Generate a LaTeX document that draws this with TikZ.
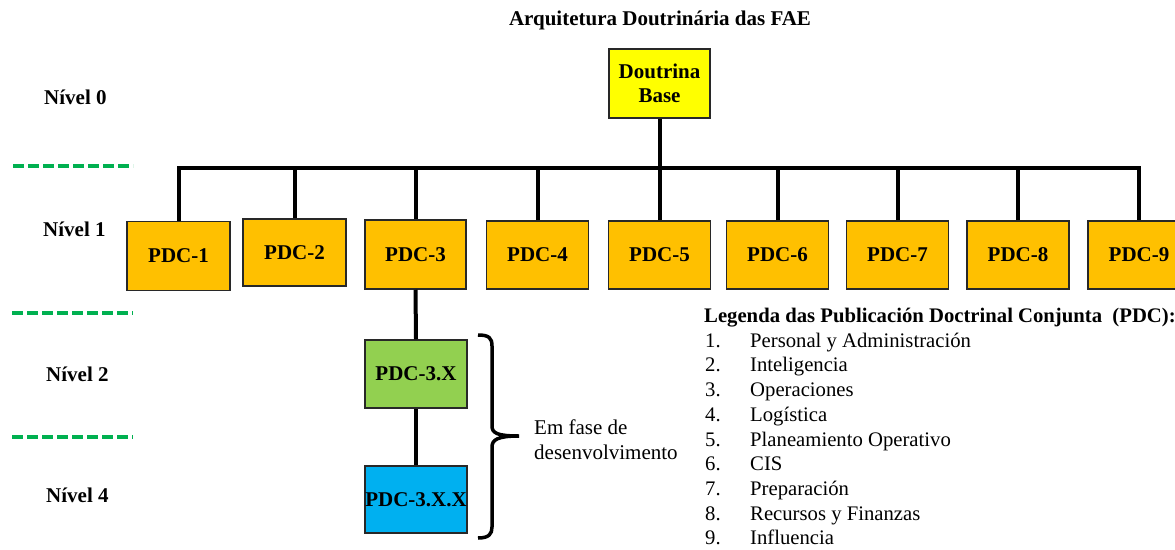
\documentclass[tikz,border=0pt]{standalone}
\usepackage{fontspec}
\setmainfont{Liberation Serif}
\definecolor{pdcorange}{RGB}{255,192,0}
\definecolor{baseyellow}{RGB}{255,255,0}
\definecolor{lvltwo}{RGB}{146,208,80}
\definecolor{lvlfour}{RGB}{0,176,240}
\definecolor{sepgreen}{RGB}{0,176,80}
\definecolor{boxedge}{RGB}{40,40,40}
\begin{document}
\begin{tikzpicture}[x=1pt,y=-1pt,
  pdcbox/.style={draw=boxedge, line width=1.5pt, fill=pdcorange,
    minimum width=102pt, minimum height=68pt, inner sep=0pt,
    font=\fontsize{21}{24}\selectfont\bfseries, align=center},
  link/.style={line width=4pt},
  sep/.style={draw=sepgreen, line width=3.5pt, dash pattern=on 11pt off 4pt},
  label/.style={anchor=west, inner sep=0pt, text height=14pt, text depth=5pt,
    font=\fontsize{20.7}{24}\selectfont},
  lvl/.style={label, font=\fontsize{21}{24}\selectfont\bfseries}
]
\useasboundingbox (0,0) rectangle (1175,549);

% title
\node[font=\fontsize{21}{24}\selectfont\bfseries, inner sep=0pt] (title) at (660,20)
  {Arquitetura Doutrinária das FAE};

% level labels
\node[lvl] (n0) at (44,100) {Nível 0};
\node[lvl] (n1) at (43,232) {Nível 1};
\node[lvl] (n2) at (46,377) {Nível 2};
\node[lvl] (n4) at (46,498) {Nível 4};

% level separators
\coordinate (s1a) at (13,166); \coordinate (s1b) at (133,166);
\coordinate (s2a) at (12,313); \coordinate (s2b) at (133,313);
\coordinate (s3a) at (12,437); \coordinate (s3b) at (133,437);
\draw[sep] (s1a) -- (s1b);
\draw[sep] (s2a) -- (s2b);
\draw[sep] (s3a) -- (s3b);

% level 0
\node[pdcbox, fill=baseyellow, minimum width=101pt, minimum height=69pt] (base) at (659.5,83.5) {Doutrina\\Base};

% level 1
\node[pdcbox, minimum width=103pt, minimum height=69pt] (pdc1) at (178.5,256) {PDC-1};
\node[pdcbox, minimum width=103pt, minimum height=67pt] (pdc2) at (294.5,252.5) {PDC-2};
\node[pdcbox, minimum width=101pt, minimum height=69pt] (pdc3) at (415.5,254.5) {PDC-3};
\node[pdcbox] (pdc4) at (537.5,255) {PDC-4};
\node[pdcbox] (pdc5) at (659.5,255) {PDC-5};
\node[pdcbox] (pdc6) at (777.5,255) {PDC-6};
\node[pdcbox] (pdc7) at (897.5,255) {PDC-7};
\node[pdcbox] (pdc8) at (1018,255) {PDC-8};
\node[pdcbox] (pdc9) at (1139,255) {PDC-9};

% levels 2 and 4
\node[pdcbox, fill=lvltwo] (pdc3x) at (416,374) {PDC-3.X};
\node[pdcbox, fill=lvlfour, minimum height=67pt] (pdc3xx) at (416,499.5) {PDC-3.X.X};

% connectors
\coordinate (bus) at (0,168);
\draw[link] (base.south) -- (base.south |- bus);
\draw[link] (pdc1.north) |- (pdc9.north |- bus) -- (pdc9.north);
\foreach \n in {2,...,8}
  \draw[link] (pdc\n.north) -- (pdc\n.north |- bus);
\draw[link] (pdc3.south) -- (pdc3x.north);
\draw[link] (pdc3x.south) -- (pdc3xx.north);

% brace around the levels under development
\draw[line width=3.5pt]
  (478,335) .. controls (489,335) and (492,338) .. (492,346)
  -- (492,426)
  .. controls (492,433) and (497,436) .. (519,436)
  .. controls (497,436) and (492,440) .. (492,447)
  -- (492,527)
  .. controls (492,534) and (489,538) .. (478,538);
\node[anchor=west, inner sep=0pt, align=left, font=\fontsize{21}{25}\selectfont] (dev) at (534,439.5)
  {Em fase de\\desenvolvimento};

% legend
\node[label, font=\fontsize{20.7}{24}\selectfont\bfseries] (leg) at (704,318)
  {Legenda das Publicación Doctrinal Conjunta\ \ (PDC):};
\foreach \i/\t in {1/Personal y Administración, 2/Inteligencia, 3/Operaciones,
    4/Logística, 5/Planeamiento Operativo, 6/CIS, 7/Preparación,
    8/Recursos y Finanzas, 9/Influencia} {
  \node[label] (num\i) at (705,{318+24.7*\i}) {\i.};
  \node[label] (item\i) at (750,{318+24.7*\i}) {\t};
}
\end{tikzpicture}
\end{document}
